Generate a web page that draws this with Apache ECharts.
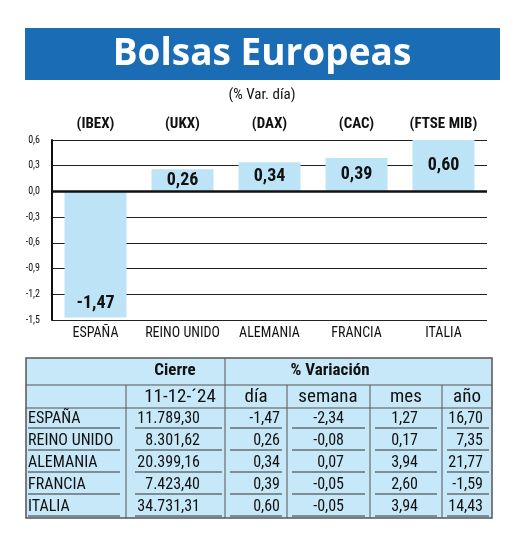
<!DOCTYPE html><html><head><meta charset="utf-8">
<script src="https://cdn.jsdelivr.net/npm/echarts@6/dist/echarts.min.js"></script>
<style>html,body{margin:0;padding:0;background:#fff}#c{width:520px;height:541px}</style></head><body><div id="c"></div>
<script>
const countries=['ESPAÑA','REINO UNIDO','ALEMANIA','FRANCIA','ITALIA'];
const indices=['(IBEX)','(UKX)','(DAX)','(CAC)','(FTSE MIB)'];
const dayVar=[-1.47,0.26,0.34,0.39,0.60];
const cierre=['11.789,30','8.301,62','20.399,16','7.423,40','34.731,31'];
const semana=['-2,34','-0,08','0,07','-0,05','-0,05'];
const mes=['1,27','0,17','3,94','2,60','3,94'];
const anio=['16,70','7,35','21,77','-1,59','14,43'];
const tableHead=['','11-12-´24','día','semana','mes','año'];
const fmt=v=>v.toFixed(2).replace('.',',');
const F="'Liberation Sans Narrow','Roboto Condensed','Liberation Sans',sans-serif";
const rowY=[358,385,408,430,452,474,496,518];
const g=[];
g.push({type:'rect',shape:{x:25,y:28,width:475,height:52},style:{fill:'#1a6db5'}});
g.push({type:'text',x:262,y:54,style:{text:'Bolsas Europeas',fill:'#fff',font:"bold 37px 'Open Sans',sans-serif",align:'center',verticalAlign:'middle'}});
g.push({type:'text',x:262,y:95,style:{text:'(% Var. día)',fill:'#111',font:"15px "+F,align:'center',verticalAlign:'middle'}});
g.push({type:'rect',shape:{x:26,y:358,width:466,height:160},style:{fill:'#c6e8f8',stroke:'#555',lineWidth:1.5}});
const L=(x1,y1,x2,y2,c,w)=>g.push({type:'line',shape:{x1,y1,x2,y2},style:{stroke:c||'#555',lineWidth:w||1}});
L(26,385,492,385);L(26,408,492,408);
L(225,358,225,518);
[126,287,370,442].forEach(x=>L(x,385,x,518));
for(let r=0;r<5;r++){const y=rowY[r+3]-2;L(28,y,120,y,'#333');L(135,y,222,y,'#333');L(230,y,282,y,'#333');L(292,y,365,y,'#333');L(375,y,437,y,'#333');L(447,y,489,y,'#333');}
const T=(t,x,y,al,sz,b)=>g.push({type:'text',x,y,style:{text:t,fill:'#111',font:(b?'bold ':'')+sz+'px '+F,align:al,verticalAlign:'middle'}});
T('Cierre',175,371,'center',17,true);T('% Variación',330,371,'center',17,true);
const hc=[0,180,256,328,406,467];
tableHead.forEach((t,i)=>{if(t)T(t,hc[i],397,'center',19);});
countries.forEach((c,r)=>{const y=rowY[r+3]-11;
T(c,28,y,'left',16);T(cierre[r],200,y,'right',16);T(fmt(dayVar[r]),280,y,'right',16);
T(semana[r],344,y,'right',16);T(mes[r],418,y,'right',16);T(anio[r],483,y,'right',16);});
const ch=echarts.init(document.getElementById('c'));
ch.setOption({animation:false,
grid:{left:52,right:33,top:140,bottom:221},
xAxis:[{type:'category',data:countries,axisLine:{show:false},axisTick:{show:false},position:'bottom',
 axisLabel:{interval:0,color:'#111',fontFamily:F,fontSize:14,margin:6}},
 {type:'category',data:indices,position:'top',axisLine:{show:false},axisTick:{show:false},
 axisLabel:{interval:0,color:'#111',fontFamily:F,fontSize:15,fontWeight:'bold',margin:8}}],
yAxis:{type:'value',min:-1.5,max:0.6,interval:0.3,axisLine:{show:true,lineStyle:{color:'#111',width:2}},axisTick:{show:false},
 splitLine:{lineStyle:{color:'#222',width:1}},
 axisLabel:{color:'#111',fontFamily:F,fontSize:10,margin:12,formatter:v=>v.toFixed(1).replace('.',',')}},
series:[{type:'bar',data:dayVar.map(v=>({value:v,label:{position:v<0?'insideBottom':'inside'}})),barWidth:62,
 itemStyle:{color:'#bde3f7'},
 label:{show:true,color:'#111',fontFamily:F,fontSize:18,fontWeight:'bold',formatter:p=>fmt(p.value)},
 markLine:{symbol:'none',silent:true,label:{show:false},lineStyle:{color:'#111',width:2.5,type:'solid'},data:[{yAxis:0}]}}],
graphic:g});
</script></body></html>
